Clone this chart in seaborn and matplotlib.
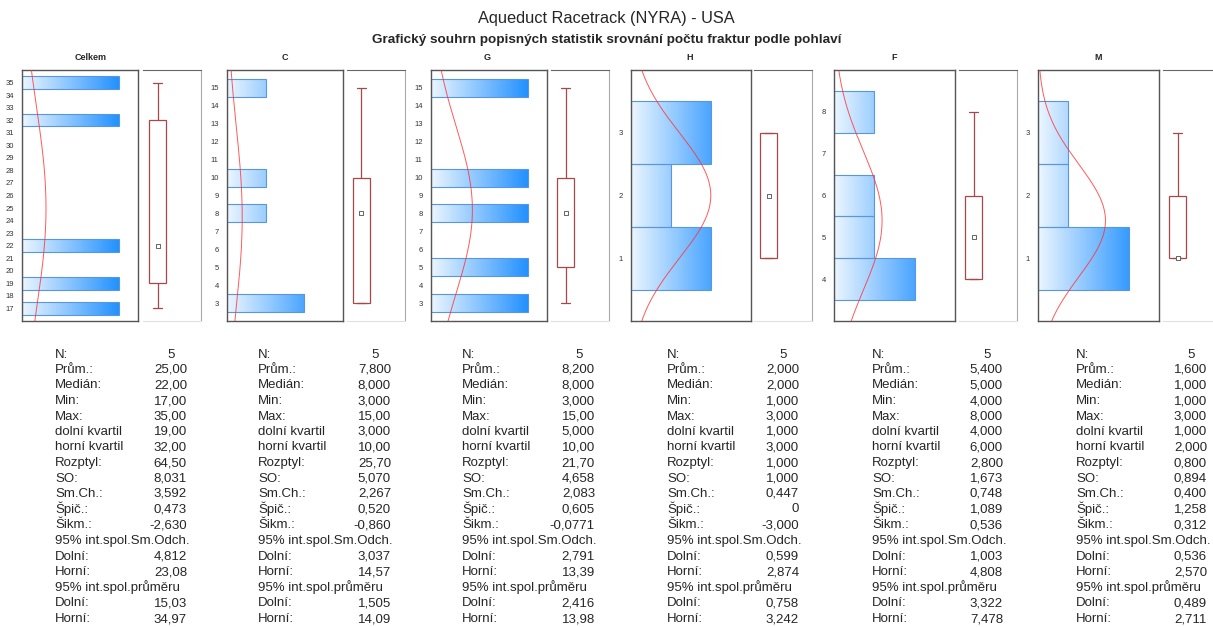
import numpy as np
import pandas as pd
import matplotlib
matplotlib.use('Agg')
import matplotlib.pyplot as plt
from matplotlib.colors import LinearSegmentedColormap
import seaborn as sns

sns.set_style('white')
plt.rcParams['font.family'] = ['Liberation Sans', 'DejaVu Sans']

# data
groups = ['Celkem', 'C', 'G', 'H', 'F', 'M']
fractures = {
    'Celkem': [17, 19, 22, 32, 35],
    'C': [3, 3, 8, 10, 15],
    'G': [3, 5, 8, 10, 15],
    'H': [1, 1, 2, 3, 3],
    'F': [4, 4, 5, 6, 8],
    'M': [1, 1, 1, 2, 3],
}
count_axis_max = [1.2, 3, 1.2, 3, 3, 4]

stat_labels = ['N:', 'Prům.:', 'Medián:', 'Min:', 'Max:', 'dolní kvartil', 'horní kvartil',
               'Rozptyl:', 'SO:', 'Sm.Ch.:', 'Špič.:', 'Šikm.:',
               '95% int.spol.Sm.Odch.', 'Dolní:', 'Horní:',
               '95% int.spol.průměru', 'Dolní:', 'Horní:']
stats_celkem = ['5', '25,00', '22,00', '17,00', '35,00', '19,00', '32,00', '64,50', '8,031', '3,592',
                '0,473', '-2,630', '', '4,812', '23,08', '', '15,03', '34,97']
stats_c = ['5', '7,800', '8,000', '3,000', '15,00', '3,000', '10,00', '25,70', '5,070', '2,267',
           '0,520', '-0,860', '', '3,037', '14,57', '', '1,505', '14,09']
stats_g = ['5', '8,200', '8,000', '3,000', '15,00', '5,000', '10,00', '21,70', '4,658', '2,083',
           '0,605', '-0,0771', '', '2,791', '13,39', '', '2,416', '13,98']
stats_h = ['5', '2,000', '2,000', '1,000', '3,000', '1,000', '3,000', '1,000', '1,000', '0,447',
           '0', '-3,000', '', '0,599', '2,874', '', '0,758', '3,242']
stats_f = ['5', '5,400', '5,000', '4,000', '8,000', '4,000', '6,000', '2,800', '1,673', '0,748',
           '1,089', '0,536', '', '1,003', '4,808', '', '3,322', '7,478']
stats_m = ['5', '1,600', '1,000', '1,000', '3,000', '1,000', '2,000', '0,800', '0,894', '0,400',
           '1,258', '0,312', '', '0,536', '2,570', '', '0,489', '2,711']
all_stats = [stats_celkem, stats_c, stats_g, stats_h, stats_f, stats_m]

# layout (pixels)
W, H = 1213, 627
hist_left = [22, 227, 431, 631, 834, 1038]
hist_right = [138, 343, 547, 751, 955, 1159]
box_left = [143, 347, 551, 754, 959, 1163]
box_w = 58
ax_top, ax_bot = 70, 321
title_x = [91, 285, 487, 690, 894, 1098]
label_x = [55, 258, 462, 667, 872, 1076]
value_x = [187, 391, 595, 799, 1003, 1207]
row_y = [352.7 + 15.5 * i for i in range(12)] + [539.3, 555, 570.5, 586, 601.7, 617.3]
fs = 9.5

fig = plt.figure(figsize=(W / 100, H / 100), dpi=100)

grad_cmap = LinearSegmentedColormap.from_list('g', ['#ecf6ff', '#1e8fff'])
red = '#a8474a'

for i, g in enumerate(groups):
    vals = np.array(fractures[g])
    lo, hi = vals.min() - 1, vals.max() + 1
    xmax = count_axis_max[i]

    ax = fig.add_axes([hist_left[i] / W, 1 - ax_bot / H,
                       (hist_right[i] - hist_left[i]) / W, (ax_bot - ax_top) / H])
    sns.histplot(y=vals, discrete=True, ax=ax, color='#1e8fff', edgecolor='#5a96dc',
                 linewidth=0.8, alpha=1)
    grad = np.clip(np.linspace(0, 1, 256) / 0.85, 0, 1)[None, :]
    for p in list(ax.patches):
        p.set_facecolor('none')
        im = ax.imshow(grad, extent=(0, xmax, lo, hi), aspect='auto', cmap=grad_cmap,
                       vmin=0, vmax=1, origin='lower', zorder=1)
        im.set_clip_path(p)
        p.set_zorder(2)

    # normal curve scaled to counts
    yy = np.linspace(lo, hi, 300)
    m, s = vals.mean(), vals.std(ddof=1)
    pdf = len(vals) * np.exp(-0.5 * ((yy - m) / s) ** 2) / (s * np.sqrt(2 * np.pi))
    curve = pd.DataFrame({'pdf': pdf, 'y': yy})
    sns.lineplot(data=curve, x='pdf', y='y', sort=False, estimator=None, orient='y',
                 color='#ff3030', lw=0.7, alpha=0.8, ax=ax, zorder=3)

    ax.set_xlim(0, xmax)
    ax.set_ylim(lo, hi)
    ax.set_xticks([])
    ax.set_yticks(np.arange(vals.min(), vals.max() + 1))
    ax.tick_params(axis='y', length=0, labelsize=5.5, labelcolor='#333333', pad=6)
    ax.set_xlabel('')
    ax.set_ylabel('')
    for sp in ax.spines.values():
        sp.set_visible(True)
        sp.set_color('#555555')
        sp.set_linewidth(1)
    fig.text(title_x[i] / W, 1 - 57 / H, g, fontsize=6.5, fontweight='bold',
             ha='center', va='center')

    # box plot
    bax = fig.add_axes([box_left[i] / W, 1 - ax_bot / H, box_w / W, (ax_bot - ax_top) / H])
    sns.boxplot(y=vals, ax=bax, width=0.6, color='white', linecolor=red, linewidth=0.9,
                whis=(0, 100), showfliers=False, medianprops={'linewidth': 0})
    sns.scatterplot(x=[0], y=[np.median(vals)], marker='s', s=7, color='white',
                    edgecolor='#666666', linewidth=0.7, ax=bax, zorder=5)
    bax.set_xlim(-0.5, 1.5)
    bax.set_ylim(lo, hi)
    bax.set_xticks([])
    bax.set_yticks([])
    bax.set_xlabel('')
    bax.set_ylabel('')
    bax.spines['left'].set_visible(False)
    bax.spines['top'].set_color('#666666')
    bax.spines['right'].set_color('#aaaaaa')
    bax.spines['bottom'].set_color('#e0e0e0')

    # statistics table (baseline aligned rows)
    for j, (lab, v) in enumerate(zip(stat_labels, all_stats[i])):
        y = 1 - (row_y[j] + 4.8) / H
        fig.text(label_x[i] / W, y, lab, fontsize=fs, va='baseline', ha='left')
        if j == 0:
            fig.text((value_x[i] - 16) / W, y, v, fontsize=fs, va='baseline', ha='center')
        elif v:
            fig.text(value_x[i] / W, y, v, fontsize=fs, va='baseline', ha='right')

fig.text(0.5, 1 - 18 / H, 'Aqueduct Racetrack (NYRA) - USA', fontsize=11.8, ha='center', va='center')
fig.text(0.5, 1 - 40 / H, 'Grafický souhrn popisných statistik srovnání počtu fraktur podle pohlaví',
         fontsize=9.7, fontweight='bold', ha='center', va='center')

fig.savefig('out.png', dpi=100)
